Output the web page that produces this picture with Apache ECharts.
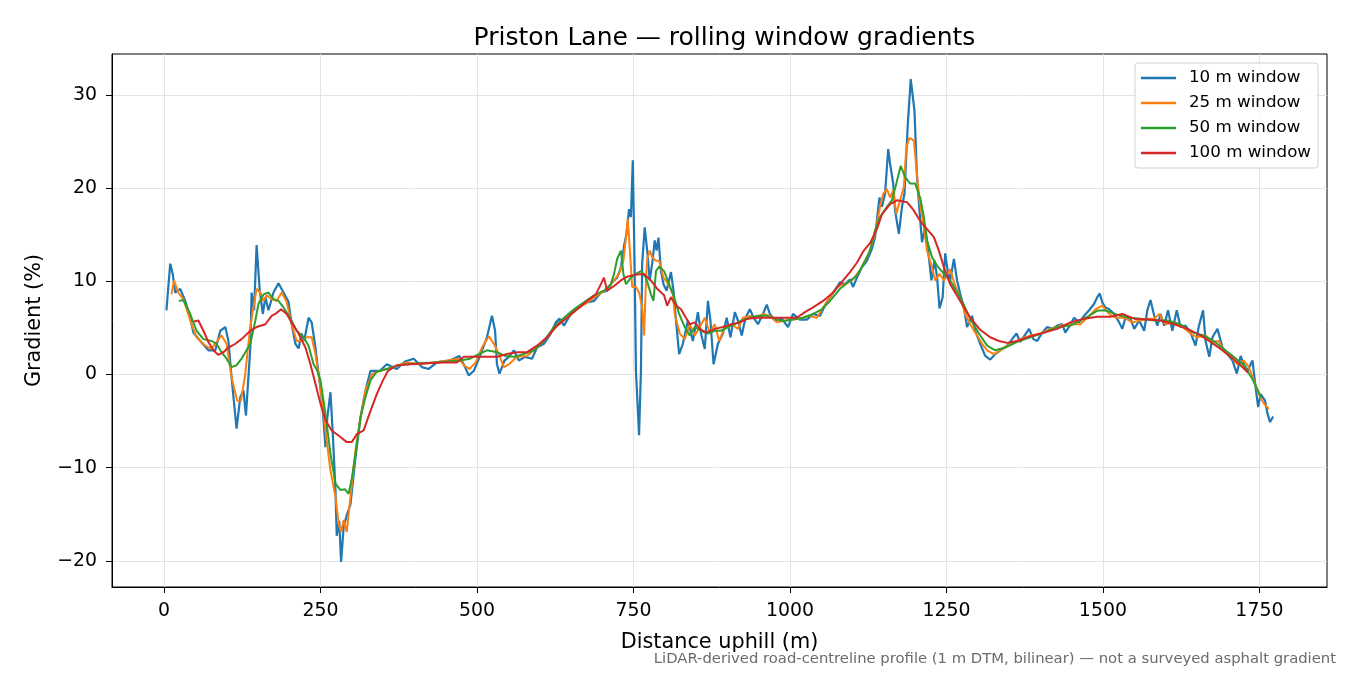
<!DOCTYPE html>
<html>
<head>
<meta charset="utf-8">
<title>Priston Lane — rolling window gradients</title>
<script src="https://cdn.jsdelivr.net/npm/echarts@6.0.0/dist/echarts.min.js"></script>
<style>
  html, body { margin: 0; padding: 0; background: #fff; }
  #chart { width: 1350px; height: 675px; }
</style>
</head>
<body>
<div id="chart"></div>
<script>
// distance (m) and gradient (%), one pair of arrays per window
const dist10 = [4,10,14,18,26,34,42,47,58,71,82,90,98,103,108,116,122,127,131,138,140,144,148,153,158,162,167,175,183,191,199,204,210,215,220,224,231,236,242,247,253,258,261,266,270,274,276,280,283,287,292,298,306,314,322,330,340,
  345,356,372,385,399,412,423,436,457,472,481,487,495,505,516,524,529,532,536,544,551,559,567,577,588,596,607,618,626,632,639,650,655,666,676,687,698,708,716,724,730,735,739,743,746,749,752,754,756,759,762,764,768,772,776,780,784,787,790,794,798,803,810,814,818,823,
  829,837,845,853,858,864,869,873,878,885,893,899,905,912,917,923,929,936,942,949,957,963,968,976,987,997,1005,1016,1027,1037,1048,1059,1069,1080,1088,1096,1101,1107,1115,1123,1131,1136,1143,1147,1152,1157,1160,1165,1168,1174,1179,1183,1188,1193,1199,1203,1207,1211,1216,1222,1226,1231,1235,1239,1244,1248,1252,1256,1262,1267,1272,1278,1283,1291,1296,1304,1312,1320,1328,1336,1347,1355,1362,1368,1375,1382,1389,1395,1403,1411,1419,1427,1435,1440,1447,1454,1462,1470,1478,1486,1491,1495,1499,1504,1510,1518,1526,1531,1536,1544,1550,1558,1566,1571,1576,1582,1587,1592,1598,1604,1611,1618,1624,1632,1640,1648,1653,1660,1664,1670,1675,1683,1691,1699,1707,1714,1720,1725,1731,1739,1744,1748,1752,1759,1763,1767,1772];
const grad10 = [6.9,11.9,10.8,8.8,9.2,7.9,6.1,4.5,3.6,2.6,2.6,4.7,5.1,3.6,-0.3,-5.8,-2.4,-1.7,-4.4,2.9,8.8,6.9,13.9,9.0,6.5,8.3,6.9,8.8,9.8,8.8,7.8,5.4,3.3,2.8,4.4,3.6,6.1,5.6,2.9,0.1,-3.1,-7.8,-4.6,-1.9,-6.7,-12.4,-17.3,-15.7,-20.1,-16.4,-15.1,-13.9,-8.9,-4.6,-1.7,0.4,0.4,
  0.4,1.1,0.6,1.4,1.7,0.8,0.6,1.3,1.5,2.0,0.8,-0.1,0.4,2.0,4.0,6.3,4.7,1.1,0.1,1.5,1.9,2.6,1.5,1.9,1.7,2.9,3.3,4.4,5.6,6.0,5.25,6.5,6.9,7.4,7.75,7.9,8.8,9.0,9.9,10.4,11.5,13.8,15.1,17.75,16.9,23.0,11.1,0.4,-2.4,-6.5,0.4,11.9,15.8,13.3,10.1,11.9,14.4,13.3,14.7,11.1,9.7,9.0,11.0,9.0,5.8,2.2,
  3.3,5.8,3.6,6.7,4.4,2.75,7.9,5.8,1.1,3.3,4.4,6.1,4.0,6.7,5.8,4.2,6.1,7.0,6.1,5.4,6.5,7.5,6.5,5.8,6.0,5.1,6.5,5.9,5.9,6.5,6.3,7.8,8.8,9.9,9.7,10.2,9.4,10.4,11.5,12.2,13.5,14.75,19.0,18.0,19.4,24.2,22.6,20.5,17.6,15.1,18.0,19.4,26.5,31.7,28.3,21.2,17.6,14.2,15.8,12.6,10.1,12.25,10.5,7.1,8.3,13.0,11.2,10.1,12.4,10.1,8.7,7.2,5.1,6.3,4.7,3.3,2.0,1.6,2.2,2.6,3.1,3.8,4.4,3.5,4.2,4.9,3.8,3.6,4.5,5.1,4.9,5.25,5.4,4.5,5.25,6.1,5.6,6.3,6.9,7.6,8.3,8.7,7.75,7.2,7.0,6.5,5.6,4.9,6.1,6.0,4.9,5.8,4.7,6.9,8.0,6.3,5.25,6.5,5.25,6.9,4.7,6.9,5.1,5.25,4.5,3.1,5.1,6.9,3.6,1.9,4.0,4.9,2.9,2.2,1.5,0.1,2.0,1.1,0.4,1.5,-1.4,-3.5,-2.1,-2.8,-4.2,-5.1,-4.5];

const dist25 = [12,16,23,31,42,52,66,76,84,92,100,108,117,123,130,137,143,148,154,159,164,172,180,188,196,204,212,220,228,236,242,250,258,266,274,279,283,287,292,298,306,314,322,333,346,366,388,409,431,452,471,479,488,498,508,519,527,535,543,551,564,580,596,612,628,644,660,676,692,708,719,727,734,738,741,745,748,754,759,764,767,770,772,776,780,786,791,798,806,813,816,824,832,840,848,856,864,872,880,887,896,907,917,925,936,947,957,968,979,989,1003,1016,1029,1043,1053,1064,1077,1088,1099,1112,1126,1136,1144,1149,1155,1160,1165,1170,1176,1182,1186,1191,1198,1203,1207,1214,1219,1227,1232,1239,1246,1256,1264,1272,1280,1288,1299,1307,1315,1326,1336,1352,1368,1384,1400,1416,1432,1448,1464,1478,1488,1499,1510,1520,1534,1547,1560,1571,1582,1590,1600,1614,1627,1640,1651,1664,1675,1685,1693,1704,1715,1725,1733,1741,1749,1757,1765];
const grad25 = [8.6,10.1,8.8,8.1,5.8,4.0,3.1,2.75,3.5,4.2,3.3,-0.3,-2.8,-2.8,0.1,4.7,7.2,9.2,8.8,7.9,8.5,8.1,7.9,8.8,7.8,5.4,3.6,3.6,4.0,4.0,2.2,-1.4,-6.0,-10.3,-13.1,-16.0,-16.9,-15.6,-16.9,-13.1,-8.1,-4.6,-1.7,0.1,0.4,0.8,1.3,1.1,1.3,1.5,1.7,1.0,0.6,1.3,2.9,4.1,3.3,2.2,0.8,1.1,1.9,2.0,2.9,4.0,5.25,6.1,7.0,7.75,8.5,9.2,10.1,10.8,12.2,14.7,16.7,12.6,9.4,9.4,8.8,7.2,4.2,10.1,12.4,13.3,12.6,12.2,12.2,10.4,9.7,8.6,6.5,4.4,3.8,5.4,4.2,5.1,6.1,4.5,5.4,3.6,5.1,5.4,4.9,6.1,6.3,6.1,6.5,6.3,5.6,5.75,5.9,6.0,6.3,6.1,7.2,8.3,9.5,9.7,10.1,11.2,13.0,15.1,18.0,19.4,19.9,19.0,19.75,17.25,18.7,20.1,24.4,25.4,25.1,21.5,18.7,15.8,13.3,11.5,10.1,10.8,10.1,11.3,9.5,8.3,6.5,5.4,4.2,3.3,2.6,2.2,2.6,3.3,3.8,4.2,4.4,4.9,5.25,5.4,5.4,6.3,7.0,7.4,6.5,6.1,6.1,5.6,5.8,6.0,6.0,6.5,5.4,5.6,5.1,4.4,4.0,4.2,3.5,3.6,2.6,1.9,1.1,1.5,0.8,-0.6,-2.1,-3.1,-3.7];

const dist50 = [24,31,42,52,63,76,84,92,100,108,116,124,130,138,146,151,159,167,175,183,191,202,212,223,231,239,245,250,258,266,274,282,289,295,300,306,314,322,330,340,356,375,388,409,431,452,473,489,503,516,532,545,559,575,591,607,623,639,655,671,687,703,714,719,724,730,734,738,746,754,762,770,778,782,786,791,799,807,815,823,832,840,848,858,869,880,890,901,912,923,936,949,963,976,989,1005,1021,1037,1051,1064,1080,1093,1107,1120,1128,1136,1144,1155,1163,1170,1177,1184,1192,1200,1208,1214,1219,1227,1235,1246,1256,1272,1288,1302,1315,1328,1344,1363,1384,1406,1427,1448,1464,1478,1491,1502,1512,1528,1544,1560,1582,1603,1624,1645,1661,1677,1693,1709,1725,1739,1749,1753];
const grad50 = [7.9,8.0,6.5,4.7,3.8,3.6,3.3,2.4,1.7,0.8,1.0,1.7,2.4,3.3,5.8,7.6,8.6,8.8,8.1,7.9,7.2,6.0,4.7,4.0,3.1,1.1,0.4,-0.6,-4.2,-8.5,-11.7,-12.4,-12.3,-12.8,-11.2,-8.5,-4.6,-2.4,-0.6,0.3,0.6,1.0,1.1,1.2,1.3,1.4,1.5,1.7,2.2,2.6,2.4,2.0,1.9,2.2,2.6,3.6,5.1,6.1,7.0,7.75,8.5,9.0,9.7,10.8,12.4,13.3,10.8,9.7,10.4,10.8,11.1,10.4,8.6,7.9,11.1,11.6,11.1,9.7,8.3,6.5,5.1,4.2,5.1,4.7,4.4,4.7,4.7,5.1,5.4,5.8,6.1,6.3,6.3,6.0,5.75,5.9,6.1,6.5,7.0,7.9,9.2,9.9,10.6,12.2,13.3,15.5,16.9,18.0,18.7,20.5,22.4,21.2,20.5,20.5,19.0,16.9,14.4,12.6,11.7,10.8,10.1,8.3,6.0,4.4,3.1,2.6,2.9,3.5,4.0,4.5,5.1,5.25,5.8,6.3,6.85,6.9,6.7,6.3,6.1,6.0,5.8,5.8,5.4,4.5,4.2,3.6,2.75,1.9,1.0,-0.5,-1.9,-2.5];

const dist100 = [48,55,63,71,79,87,95,103,114,124,138,148,162,172,180,187,196,204,215,226,234,242,250,258,268,282,292,300,308,319,330,340,350,358,372,393,420,447,468,479,495,516,532,548,564,580,596,612,628,644,660,676,690,698,703,708,719,730,740,751,767,778,788,799,804,810,818,826,832,840,848,856,866,880,893,907,920,933,947,963,979,995,1011,1024,1037,1053,1069,1085,1096,1107,1118,1128,1139,1147,1160,1171,1187,1197,1208,1219,1230,1238,1246,1256,1272,1288,1304,1320,1334,1347,1363,1384,1406,1427,1448,1470,1491,1512,1531,1550,1571,1592,1614,1635,1656,1672,1688,1704,1720,1732];
const grad100 = [5.7,5.8,4.7,3.5,2.6,2.1,2.4,2.9,3.3,3.8,4.7,5.1,5.4,6.3,6.6,7.0,6.5,5.6,4.4,2.9,1.1,-1.0,-3.1,-4.9,-6.0,-6.7,-7.25,-7.25,-6.4,-6.0,-3.9,-2.1,-0.6,0.4,1.0,1.1,1.2,1.3,1.3,1.9,1.9,1.9,1.9,2.2,2.4,2.4,3.1,4.0,5.25,6.1,7.0,7.9,8.6,9.7,10.4,9.0,9.5,10.1,10.5,10.7,10.8,10.1,9.2,8.5,7.4,8.3,7.4,7.0,6.3,5.4,5.6,4.9,4.5,4.9,5.1,5.4,5.6,6.0,6.1,6.1,6.1,6.1,6.1,6.7,7.2,7.9,8.8,10.1,11.0,12.0,13.3,14.1,15.6,17.2,18.3,18.7,18.5,17.7,16.5,15.6,14.75,13.3,11.5,9.7,7.9,6.1,4.8,4.0,3.6,3.4,3.6,4.1,4.5,4.9,5.6,6.0,6.2,6.2,6.5,6.0,5.9,5.8,5.4,4.9,4.2,3.5,2.75,1.9,1.0,0.2];

const seriesNames = ['10 m window', '25 m window', '50 m window', '100 m window'];
const seriesColors = ['#1f77b4', '#ff7f0e', '#2ca02c', '#d62728'];
const xTicks = [0, 250, 500, 750, 1000, 1250, 1500, 1750];
const yTicks = [-20, -10, 0, 10, 20, 30];

function pairs(xs, ys) {
    return xs.map((x, i) => [x, ys[i]]);
}

const chart = echarts.init(document.getElementById('chart'), null, { renderer: 'canvas' });
const font = 'DejaVu Sans';
const allData = [pairs(dist10, grad10), pairs(dist25, grad25), pairs(dist50, grad50), pairs(dist100, grad100)];
const widths = [2.2, 2.0, 2.0, 2.0];

const option = {
    animation: false,
    backgroundColor: '#fff',
    title: {
        text: 'Priston Lane — rolling window gradients',
        left: 719.5, top: 18, textAlign: 'center',
        textStyle: { fontFamily: font, fontSize: 25, fontWeight: 'normal', color: '#000', lineHeight: 30 }
    },
    legend: {
        orient: 'vertical', right: 32, top: 63,
        padding: [6, 7, 6, 6],
        itemWidth: 35, itemHeight: 2.4, itemGap: 7,
        icon: 'rect',
        borderColor: '#d0d0d0', borderWidth: 1, borderRadius: 3,
        backgroundColor: 'rgba(255,255,255,0.85)',
        textStyle: { fontFamily: font, fontSize: 16.7, color: '#000', lineHeight: 18, padding: [0, 0, 0, 8] },
        data: seriesNames
    },
    grid: { left: 112, right: 23, top: 54, bottom: 88, show: true, borderColor: '#000', borderWidth: 1, backgroundColor: 'transparent' },
    xAxis: {
        type: 'value', min: -83, max: 1858,
        name: 'Distance uphill (m)', nameLocation: 'middle', nameGap: 45,
        nameTextStyle: { fontFamily: font, fontSize: 20.8, color: '#000' },
        axisLine: { show: true, onZero: false, lineStyle: { color: '#000', width: 1 } },
        axisTick: { show: true, length: 6, customValues: xTicks, lineStyle: { color: '#000' } },
        axisLabel: { customValues: xTicks, fontFamily: font, fontSize: 18.9, color: '#000', margin: 15, formatter: v => String(v) },
        splitLine: { show: true, lineStyle: { color: '#e4e4e4', width: 1 } }
    },
    yAxis: {
        type: 'value', min: -22.8, max: 34.4,
        name: 'Gradient (%)', nameLocation: 'middle', nameGap: 67, nameRotate: 90,
        nameTextStyle: { fontFamily: font, fontSize: 20.8, color: '#000' },
        axisLine: { show: true, onZero: false, lineStyle: { color: '#000', width: 1 } },
        axisTick: { show: true, length: 6, customValues: yTicks, lineStyle: { color: '#000' } },
        axisLabel: {
            customValues: yTicks, fontFamily: font, fontSize: 18.9, color: '#000', margin: 15,
            formatter: v => String(v).replace('-', '\u2212')
        },
        splitLine: { show: true, lineStyle: { color: '#e4e4e4', width: 1 } }
    },
    graphic: [{
        type: 'text', right: 14, top: 652,
        style: {
            text: 'LiDAR-derived road-centreline profile (1 m DTM, bilinear) — not a surveyed asphalt gradient',
            font: '14.8px "DejaVu Sans"', fill: '#6b6b6b'
        }
    }],
    series: seriesNames.map((name, i) => ({
        name: name,
        type: 'line',
        data: allData[i],
        showSymbol: false,
        symbol: 'none',
        clip: true,
        color: seriesColors[i],
        lineStyle: { color: seriesColors[i], width: widths[i] },
        z: 2 + i
    }))
};

chart.setOption(option);
</script>
</body>
</html>
